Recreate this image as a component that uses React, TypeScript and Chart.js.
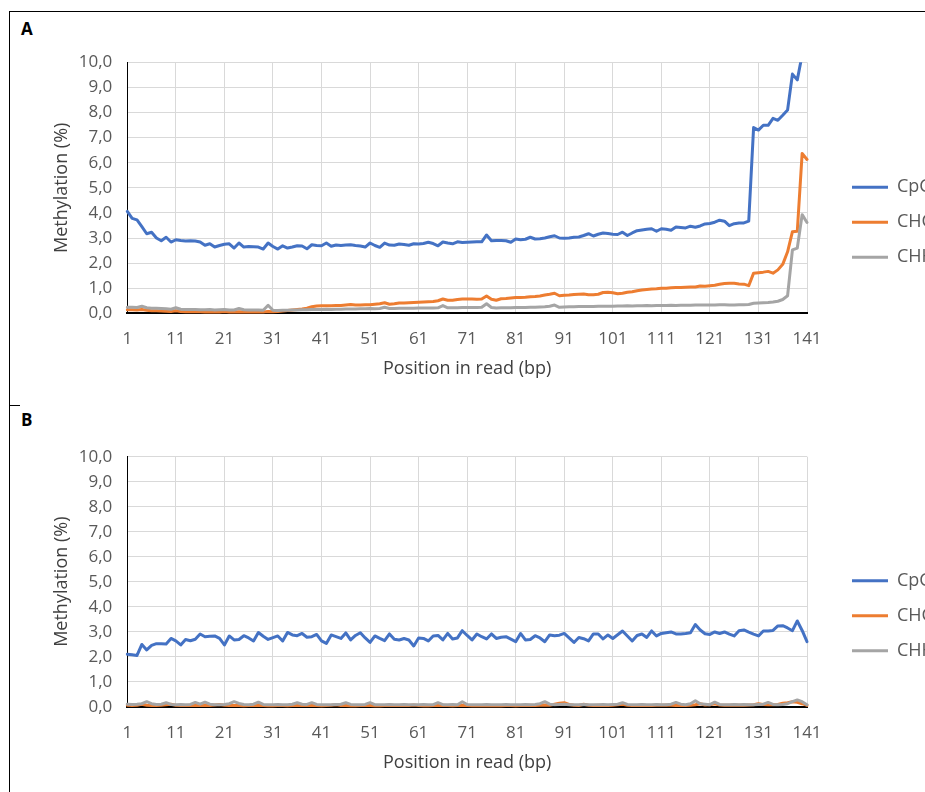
import React, { useEffect, useRef } from "react";
import { Chart, registerables } from "chart.js";

Chart.register(...registerables);

// ---- categories / ticks ----
const positions = [
  1, 2, 3, 4, 5, 6, 7, 8, 9, 10,
  11, 12, 13, 14, 15, 16, 17, 18, 19, 20,
  21, 22, 23, 24, 25, 26, 27, 28, 29, 30,
  31, 32, 33, 34, 35, 36, 37, 38, 39, 40,
  41, 42, 43, 44, 45, 46, 47, 48, 49, 50,
  51, 52, 53, 54, 55, 56, 57, 58, 59, 60,
  61, 62, 63, 64, 65, 66, 67, 68, 69, 70,
  71, 72, 73, 74, 75, 76, 77, 78, 79, 80,
  81, 82, 83, 84, 85, 86, 87, 88, 89, 90,
  91, 92, 93, 94, 95, 96, 97, 98, 99, 100,
  101, 102, 103, 104, 105, 106, 107, 108, 109, 110,
  111, 112, 113, 114, 115, 116, 117, 118, 119, 120,
  121, 122, 123, 124, 125, 126, 127, 128, 129, 130,
  131, 132, 133, 134, 135, 136, 137, 138, 139, 140, 141,
];
const xTickValues = [1, 11, 21, 31, 41, 51, 61, 71, 81, 91, 101, 111, 121, 131, 141];
const yTickValues = [0, 1, 2, 3, 4, 5, 6, 7, 8, 9, 10];
const yTickLabels = ["0,0", "1,0", "2,0", "3,0", "4,0", "5,0", "6,0", "7,0", "8,0", "9,0", "10,0"];
const seriesNames = ["CpG", "CHG", "CHH"];
const seriesColors = ["#4472C4", "#ED7D31", "#A5A5A5"];
const xAxisTitle = "Position in read (bp)";
const yAxisTitle = "Methylation (%)";

// ---- panel A ----
const cpgA = [
  4.06, 3.78, 3.72, 3.45, 3.17, 3.23, 3.0, 2.89, 3.03, 2.84,
  2.93, 2.9, 2.88, 2.89, 2.88, 2.84, 2.71, 2.77, 2.64, 2.7,
  2.75, 2.77, 2.6, 2.8, 2.64, 2.66, 2.65, 2.64, 2.56, 2.8,
  2.66, 2.56, 2.69, 2.6, 2.64, 2.69, 2.68, 2.57, 2.73, 2.7,
  2.69, 2.8, 2.67, 2.72, 2.7, 2.72, 2.73, 2.7, 2.68, 2.64,
  2.8, 2.7, 2.63, 2.8, 2.72, 2.71, 2.76, 2.74, 2.71, 2.77,
  2.76, 2.78, 2.83, 2.78, 2.69, 2.84, 2.8, 2.77, 2.85, 2.82,
  2.83, 2.84, 2.85, 2.85, 3.12, 2.89, 2.9, 2.9, 2.89, 2.83,
  2.96, 2.93, 2.95, 3.03, 2.96, 2.97, 3.0, 3.05, 3.09, 3.0,
  2.99, 3.0, 3.03, 3.04, 3.1, 3.17, 3.08, 3.15, 3.2, 3.18,
  3.15, 3.14, 3.23, 3.1, 3.2, 3.29, 3.32, 3.35, 3.37, 3.27,
  3.37, 3.35, 3.31, 3.44, 3.42, 3.4, 3.47, 3.43, 3.48, 3.56,
  3.58, 3.63, 3.71, 3.67, 3.49, 3.57, 3.6, 3.6, 3.67, 7.4,
  7.3, 7.49, 7.49, 7.77, 7.69, 7.89, 8.1, 9.53, 9.3, 10.3, 11.0,
];
const chgA = [
  0.14, 0.14, 0.13, 0.15, 0.12, 0.1, 0.1, 0.09, 0.08, 0.07,
  0.1, 0.07, 0.06, 0.06, 0.06, 0.06, 0.05, 0.05, 0.05, 0.05,
  0.07, 0.05, 0.05, 0.06, 0.05, 0.05, 0.05, 0.05, 0.05, 0.07,
  0.06, 0.07, 0.09, 0.11, 0.13, 0.15, 0.17, 0.2, 0.26, 0.29,
  0.3, 0.3, 0.3, 0.31, 0.31, 0.33, 0.35, 0.33, 0.33, 0.34,
  0.34, 0.36, 0.38, 0.42, 0.36, 0.38, 0.41, 0.41, 0.42, 0.43,
  0.44, 0.45, 0.46, 0.47, 0.5, 0.57, 0.52, 0.52, 0.55, 0.57,
  0.57, 0.57, 0.56, 0.57, 0.69, 0.56, 0.52, 0.58, 0.59, 0.61,
  0.63, 0.63, 0.64, 0.66, 0.67, 0.69, 0.73, 0.76, 0.8, 0.7,
  0.72, 0.73, 0.75, 0.76, 0.77, 0.74, 0.74, 0.76, 0.83, 0.84,
  0.82, 0.78, 0.8, 0.84, 0.86, 0.9, 0.93, 0.95, 0.97, 0.98,
  1.0, 1.0, 1.02, 1.03, 1.03, 1.04, 1.05, 1.05, 1.09, 1.08,
  1.1, 1.12, 1.16, 1.19, 1.2, 1.2, 1.17, 1.16, 1.1, 1.6,
  1.62, 1.64, 1.67, 1.6, 1.73, 1.95, 2.45, 3.25, 3.27, 6.37, 6.13,
];
const chhA = [
  0.24, 0.24, 0.23, 0.28, 0.22, 0.2, 0.2, 0.19, 0.18, 0.16,
  0.22, 0.16, 0.15, 0.15, 0.15, 0.14, 0.14, 0.15, 0.13, 0.14,
  0.15, 0.13, 0.13, 0.19, 0.14, 0.13, 0.13, 0.13, 0.12, 0.32,
  0.12, 0.11, 0.12, 0.12, 0.13, 0.13, 0.14, 0.14, 0.15, 0.15,
  0.15, 0.16, 0.15, 0.16, 0.16, 0.17, 0.17, 0.17, 0.18, 0.18,
  0.19, 0.18, 0.19, 0.24, 0.19, 0.19, 0.2, 0.2, 0.2, 0.2,
  0.21, 0.21, 0.21, 0.21, 0.22, 0.31, 0.22, 0.22, 0.22, 0.23,
  0.23, 0.23, 0.23, 0.24, 0.38, 0.23, 0.21, 0.22, 0.22, 0.22,
  0.23, 0.23, 0.23, 0.24, 0.24, 0.25, 0.26, 0.28, 0.33, 0.24,
  0.25, 0.26, 0.26, 0.27, 0.27, 0.27, 0.27, 0.28, 0.28, 0.28,
  0.28, 0.29, 0.29, 0.3, 0.29, 0.3, 0.3, 0.31, 0.3, 0.31,
  0.31, 0.31, 0.32, 0.31, 0.32, 0.32, 0.32, 0.33, 0.33, 0.33,
  0.33, 0.33, 0.34, 0.34, 0.33, 0.33, 0.34, 0.34, 0.35, 0.4,
  0.41, 0.42, 0.43, 0.45, 0.48, 0.55, 0.7, 2.53, 2.6, 3.93, 3.62,
];

// ---- panel B ----
const cpgB = [
  2.1, 2.08, 2.05, 2.49, 2.27, 2.45, 2.52, 2.52, 2.51, 2.73,
  2.63, 2.47, 2.69, 2.64, 2.7, 2.91, 2.8, 2.82, 2.83, 2.73,
  2.47, 2.83, 2.67, 2.69, 2.84, 2.75, 2.63, 2.97, 2.82, 2.69,
  2.76, 2.83, 2.63, 2.97, 2.87, 2.84, 2.93, 2.78, 2.8, 2.89,
  2.63, 2.53, 2.87, 2.8, 2.73, 2.95, 2.67, 2.85, 2.96, 2.75,
  2.57, 2.83, 2.73, 2.64, 2.91, 2.7, 2.67, 2.73, 2.67, 2.43,
  2.75, 2.73, 2.63, 2.83, 2.85, 2.67, 2.93, 2.71, 2.75, 3.04,
  2.85, 2.67, 2.91, 2.8, 2.71, 2.91, 2.73, 2.78, 2.8, 2.7,
  2.6, 2.93, 2.67, 2.69, 2.84, 2.75, 2.6, 2.87, 2.84, 2.86,
  2.93, 2.75, 2.57, 2.77, 2.72, 2.63, 2.91, 2.91, 2.71, 2.87,
  2.73, 2.88, 3.03, 2.83, 2.63, 2.85, 2.91, 2.77, 3.03, 2.83,
  2.93, 2.96, 2.99, 2.91, 2.91, 2.93, 2.96, 3.29, 3.07, 2.92,
  2.89, 2.99, 2.93, 2.99, 2.9, 2.83, 3.04, 3.07, 2.98, 2.9,
  2.83, 3.03, 3.03, 3.05, 3.23, 3.24, 3.15, 3.04, 3.43, 3.05, 2.6,
];
const chgB = [
  0.06, 0.05, 0.06, 0.1, 0.06, 0.05, 0.05, 0.06, 0.08, 0.1,
  0.06, 0.05, 0.05, 0.06, 0.05, 0.05, 0.06, 0.05, 0.07, 0.09,
  0.06, 0.05, 0.05, 0.05, 0.04, 0.05, 0.06, 0.05, 0.05, 0.04,
  0.04, 0.05, 0.05, 0.04, 0.05, 0.06, 0.05, 0.05, 0.06, 0.05,
  0.04, 0.05, 0.06, 0.08, 0.05, 0.05, 0.04, 0.04, 0.05, 0.05,
  0.05, 0.04, 0.04, 0.05, 0.06, 0.05, 0.05, 0.06, 0.05, 0.07,
  0.05, 0.04, 0.04, 0.05, 0.05, 0.06, 0.05, 0.04, 0.05, 0.06,
  0.05, 0.04, 0.04, 0.05, 0.04, 0.04, 0.05, 0.04, 0.05, 0.05,
  0.04, 0.05, 0.05, 0.06, 0.05, 0.06, 0.07, 0.06, 0.1, 0.14,
  0.16, 0.09, 0.06, 0.05, 0.1, 0.06, 0.05, 0.06, 0.05, 0.05,
  0.06, 0.08, 0.1, 0.06, 0.05, 0.05, 0.06, 0.05, 0.05, 0.06,
  0.06, 0.07, 0.06, 0.05, 0.06, 0.05, 0.06, 0.08, 0.12, 0.07,
  0.08, 0.12, 0.07, 0.06, 0.06, 0.07, 0.06, 0.06, 0.07, 0.08,
  0.12, 0.09, 0.08, 0.08, 0.09, 0.14, 0.16, 0.2, 0.18, 0.12, 0.05,
];
const chhB = [
  0.1, 0.09, 0.1, 0.12, 0.2, 0.12, 0.09, 0.1, 0.16, 0.09,
  0.08, 0.09, 0.08, 0.09, 0.17, 0.1, 0.18, 0.1, 0.08, 0.08,
  0.09, 0.12, 0.2, 0.13, 0.09, 0.08, 0.1, 0.18, 0.09, 0.08,
  0.08, 0.09, 0.08, 0.08, 0.1, 0.16, 0.1, 0.09, 0.16, 0.09,
  0.08, 0.08, 0.08, 0.09, 0.1, 0.16, 0.09, 0.08, 0.08, 0.09,
  0.16, 0.08, 0.08, 0.08, 0.09, 0.08, 0.08, 0.09, 0.08, 0.08,
  0.08, 0.09, 0.08, 0.08, 0.16, 0.08, 0.08, 0.09, 0.08, 0.2,
  0.09, 0.08, 0.08, 0.08, 0.09, 0.08, 0.08, 0.08, 0.09, 0.08,
  0.08, 0.08, 0.09, 0.08, 0.09, 0.12, 0.2, 0.1, 0.08, 0.09,
  0.1, 0.08, 0.08, 0.08, 0.09, 0.08, 0.08, 0.08, 0.09, 0.08,
  0.09, 0.1, 0.16, 0.09, 0.08, 0.08, 0.09, 0.08, 0.08, 0.09,
  0.08, 0.08, 0.1, 0.17, 0.1, 0.08, 0.12, 0.24, 0.12, 0.1,
  0.08, 0.18, 0.09, 0.08, 0.08, 0.09, 0.08, 0.09, 0.08, 0.08,
  0.09, 0.1, 0.17, 0.09, 0.08, 0.09, 0.12, 0.2, 0.27, 0.2, 0.08,
];

const FONT = "'Open Sans', 'DejaVu Sans', sans-serif";
const CANVAS_W = 925;

type PanelProps = {
  series: number[][];
  top: number;
  height: number;
  padTop: number;
  xAxisH: number;
  xTickPad: number;
  xTitlePad: number;
};

function Panel({ series, top, height, padTop, xAxisH, xTickPad, xTitlePad }: PanelProps) {
  const ref = useRef<HTMLCanvasElement | null>(null);
  useEffect(() => {
    if (!ref.current) return;
    const toPoints = (vals: number[]) => positions.map((p, i) => ({ x: p, y: vals[i] }));
    const chart = new Chart(ref.current, {
      type: "line",
      data: {
        datasets: series.map((vals, k) => ({
          label: seriesNames[k],
          data: toPoints(vals),
          borderColor: seriesColors[k],
          backgroundColor: seriesColors[k],
          borderWidth: 3,
          pointRadius: 0,
          pointHoverRadius: 0,
          tension: 0,
          borderJoinStyle: "round",
          borderCapStyle: "round",
          order: 3 - k,
          clip: { left: 2, top: 0, right: 2, bottom: 2 },
        })),
      },
      options: {
        responsive: false,
        animation: false,
        events: [],
        layout: { padding: { top: padTop, left: 0, right: 0, bottom: 0 } },
        plugins: {
          tooltip: { enabled: false },
          legend: {
            position: "right",
            align: "center",
            maxWidth: 90,
            labels: {
              usePointStyle: true,
              pointStyle: "line",
              pointStyleWidth: 36,
              padding: 17,
              color: "#595959",
              font: { family: FONT, size: 18 },
              sort: (a: any, b: any) => a.datasetIndex - b.datasetIndex,
            },
          },
        },
        scales: {
          x: {
            type: "linear",
            min: 1,
            max: 141,
            afterBuildTicks: (s: any) => {
              s.ticks = xTickValues.map((v) => ({ value: v }));
            },
            afterFit: (s: any) => {
              s.height = xAxisH;
            },
            ticks: {
              autoSkip: false,
              maxRotation: 0,
              padding: xTickPad,
              color: "#595959",
              font: { family: FONT, size: 17 },
              callback: (v: any) => String(v),
            },
            grid: { color: "#D9D9D9", lineWidth: 1, drawTicks: false },
            border: { color: "#000000", width: 2 },
            title: {
              display: true,
              text: xAxisTitle,
              color: "#404040",
              font: { family: FONT, size: 18 },
              padding: { top: 0, bottom: xTitlePad },
            },
          },
          y: {
            type: "linear",
            min: 0,
            max: 10,
            afterBuildTicks: (s: any) => {
              s.ticks = yTickValues.map((v) => ({ value: v }));
            },
            afterFit: (s: any) => {
              s.width = 127.3;
            },
            ticks: {
              padding: 15,
              color: "#595959",
              font: { family: FONT, size: 17 },
              callback: (_v: any, i: number) => yTickLabels[i],
            },
            grid: { color: "#D9D9D9", lineWidth: 1, drawTicks: false },
            border: { color: "#000000", width: 1 },
            title: {
              display: true,
              text: yAxisTitle,
              color: "#404040",
              font: { family: FONT, size: 18 },
              padding: { top: 51, bottom: 0 },
            },
          },
          gap: {
            type: "linear",
            position: "right",
            display: true,
            min: 0,
            max: 1,
            afterFit: (s: any) => {
              s.width = 28;
            },
            ticks: { display: false },
            grid: { display: false, drawTicks: false },
            border: { display: false },
          },
        },
      } as any,
    } as any);
    return () => chart.destroy();
  }, []);
  return (
    <canvas
      ref={ref}
      width={CANVAS_W}
      height={height}
      style={{ position: "absolute", left: 0, top, width: CANVAS_W, height, display: "block" }}
    />
  );
}

export default function App() {
  const labelStyle: React.CSSProperties = {
    position: "absolute",
    left: 21,
    fontFamily: FONT,
    fontWeight: 700,
    fontSize: 17,
    lineHeight: "23px",
    color: "#000",
  };
  return (
    <div
      style={{
        position: "absolute",
        left: 0,
        top: 0,
        width: 925,
        height: 792,
        overflow: "hidden",
        background: "#fff",
      }}
    >
      <div style={{ position: "absolute", left: 9, top: 11, width: 916, height: 1, background: "#000" }} />
      <div style={{ position: "absolute", left: 9, top: 11, width: 1, height: 781, background: "#000" }} />
      <div style={{ position: "absolute", left: 9, top: 405, width: 11, height: 1, background: "#000" }} />
      <div style={{ ...labelStyle, top: 17 }}>A</div>
      <div style={{ ...labelStyle, top: 408 }}>B</div>
      <Panel
        series={[cpgA, chgA, chhA]}
        top={30}
        height={352}
        padTop={32.3}
        xAxisH={68.7}
        xTickPad={15.5}
        xTitlePad={2}
      />
      <Panel
        series={[cpgB, chgB, chhB]}
        top={424}
        height={351}
        padTop={32.7}
        xAxisH={68.3}
        xTickPad={16}
        xTitlePad={1}
      />
    </div>
  );
}
